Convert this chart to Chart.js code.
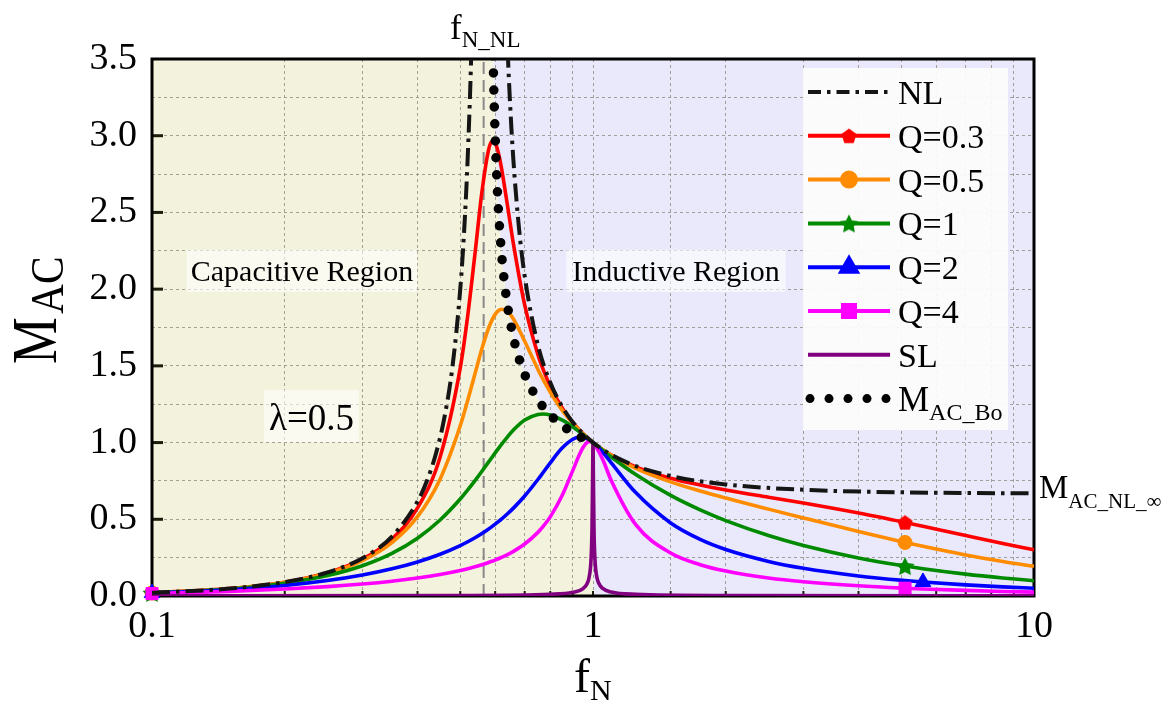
<!DOCTYPE html>
<html>
<head>
<meta charset="utf-8">
<script src="https://cdn.jsdelivr.net/npm/chart.js@4.4.1/dist/chart.umd.min.js"></script>
<style>
  html, body { margin: 0; padding: 0; background: #fff; }
  #wrap { width: 1161px; height: 702px; position: relative; }
</style>
</head>
<body>
<div id="wrap"><canvas id="gain"></canvas></div>
<script>
// ---- data -------------------------------------------------------------
// normalised switching frequency samples used by the loaded curves
const fnGrid = [0.1, 0.15, 0.2, 0.25, 0.3, 0.35, 0.4, 0.45, 0.5, 0.52, 0.54, 0.56, 0.58, 0.59, 0.6,
  0.61, 0.62, 0.64, 0.66, 0.7, 0.75, 0.77, 0.8, 0.85, 0.9, 0.93, 0.95, 0.97, 0.985, 1,
  1.05, 1.1, 1.25, 1.5, 1.75, 2, 2.5, 3, 4, 5.1, 5.6, 7, 8.5, 10];

const gainQ03 = [0.0206, 0.0480, 0.0901, 0.1516, 0.2406, 0.3719, 0.5738, 0.9047, 1.4866, 1.8287, 2.2306,
  2.6341, 2.9111, 2.9627, 2.9521, 2.8894, 2.7902, 2.5433, 2.2950, 1.8973, 1.5732, 1.4803, 1.3674,
  1.2286, 1.1300, 1.0835, 1.0566, 1.0323, 1.0156, 1, 0.9552, 0.9189, 0.8420, 0.7680, 0.7232, 0.6912,
  0.6437, 0.6056, 0.5405, 0.4791, 0.4542, 0.3937, 0.3419, 0.3008];
const gainQ05 = [0.0205, 0.0477, 0.0888, 0.1478, 0.2310, 0.3485, 0.5169, 0.7615, 1.1094, 1.2762, 1.4489,
  1.6127, 1.7475, 1.7982, 1.8356, 1.8592, 1.8693, 1.8545, 1.8052, 1.6604, 1.4768, 1.4126, 1.3278,
  1.2131, 1.1249, 1.0814, 1.0556, 1.0319, 1.0155, 1, 0.9545, 0.9166, 0.8325, 0.7441, 0.6845, 0.6385,
  0.5662, 0.5087, 0.4199, 0.3491, 0.3236, 0.2675, 0.2248, 0.1934];
const gainQ1 = [0.0202, 0.0460, 0.0833, 0.1333, 0.1975, 0.2779, 0.3766, 0.4951, 0.6325, 0.6916, 0.7523,
  0.8134, 0.8740, 0.9036, 0.9325, 0.9605, 0.9875, 1.0375, 1.0813, 1.1465, 1.1837, 1.1861, 1.1793,
  1.1475, 1.1018, 1.0715, 1.0509, 1.0304, 1.0151, 1, 0.9515, 0.9063, 0.7918, 0.6555, 0.5611, 0.4914,
  0.3945, 0.3297, 0.2483, 0.1952, 0.1779, 0.1425, 0.1175, 0.0999];
const gainQ2 = [0.0191, 0.0409, 0.0685, 0.1008, 0.1370, 0.1773, 0.2221, 0.2721, 0.3288, 0.3536, 0.3799,
  0.4076, 0.4370, 0.4523, 0.4681, 0.4844, 0.5011, 0.5359, 0.5727, 0.6519, 0.7593, 0.8034, 0.8682,
  0.9626, 1.0220, 1.0346, 1.0331, 1.0244, 1.0137, 1, 0.9394, 0.8681, 0.6738, 0.4762, 0.3690, 0.3030,
  0.2256, 0.1810, 0.1309, 0.1008, 0.0914, 0.0725, 0.0594, 0.0504];
const gainQ4 = [0.0160, 0.0300, 0.0452, 0.0612, 0.0782, 0.0966, 0.1169, 0.1398, 0.1661, 0.1778, 0.1904,
  0.2039, 0.2185, 0.2262, 0.2343, 0.2427, 0.2515, 0.2702, 0.2908, 0.3386, 0.4146, 0.4516, 0.5159,
  0.6512, 0.8186, 0.9176, 0.9697, 1.0012, 1.0080, 1, 0.8953, 0.7529, 0.4646, 0.2801, 0.2041, 0.1625,
  0.1174, 0.0929, 0.0664, 0.0508, 0.0460, 0.0364, 0.0298, 0.0252];

// no-load gain, split either side of its pole
const nlLowFn = [0.1, 0.15, 0.2, 0.25, 0.3, 0.35, 0.4, 0.42, 0.44, 0.46, 0.48, 0.5, 0.51, 0.52, 0.53, 0.54, 0.55];
const nlLowGain = [0.0206, 0.0483, 0.0909, 0.1538, 0.2466, 0.3874, 0.6154, 0.7493, 0.9237, 1.1589, 1.4923,
  2.0, 2.368, 2.865, 3.571, 4.658, 6.541];
const nlHighFn = [0.61, 0.62, 0.63, 0.64, 0.65, 0.66, 0.68, 0.7, 0.75, 0.8, 0.85, 0.9, 1, 1.2, 1.5, 2, 3, 5, 10];
const nlHighGain = [6.399, 5.017, 4.163, 3.580, 3.158, 2.839, 2.388, 2.085, 1.636, 1.391, 1.238, 1.133, 1.0,
  0.8675, 0.7826, 0.7273, 0.6923, 0.6757, 0.6689];

// short-load gain
const slFn = [0.1, 0.5, 0.8, 0.9, 0.95, 0.97, 0.98, 0.99, 0.995, 0.998, 1, 1.002, 1.005, 1.01, 1.02, 1.03,
  1.05, 1.1, 1.25, 2, 10];
const slGain = [0.0005, 0.0033, 0.0111, 0.0237, 0.0487, 0.0820, 0.1228, 0.2415, 0.4468, 0.7815, 1.0,
  0.7802, 0.4477, 0.2435, 0.1252, 0.0843, 0.0511, 0.0262, 0.0111, 0.0033, 0.0005];

// capacitive / inductive boundary
const boFn = [0.59, 0.595, 0.6, 0.605, 0.61, 0.62, 0.63, 0.64, 0.66, 0.68, 0.7, 0.75, 0.8, 0.85, 0.9, 0.95, 1];
const boGain = [3.964, 3.377, 3.000, 2.732, 2.530, 2.240, 2.040, 1.892, 1.685, 1.545, 1.444, 1.279, 1.180,
  1.113, 1.064, 1.028, 1.000];

const fnNL = 0.565;                       // dashed marker line
const xTickValues = [0.1, 1, 10];
const xTickLabels = ['0.1', '1', '10'];
const yTickValues = [0, 0.5, 1, 1.5, 2, 2.5, 3, 3.5];
const yTickLabels = ['0.0', '0.5', '1.0', '1.5', '2.0', '2.5', '3.0', '3.5'];

// ---- style ------------------------------------------------------------
const SERIF = '"Liberation Serif", "Times New Roman", Times, serif';
const C_NL = '#151515', C_Q03 = '#ff0000', C_Q05 = '#ff8c00', C_Q1 = '#008a00',
      C_Q2 = '#0000ff', C_Q4 = '#ff00ff', C_SL = '#800080';
const CAP_BG = '#f3f2dc', IND_BG = '#e9e9fb';
const GRID = 'rgba(140,140,130,0.8)';
const LW = 3.6;

function polyMarker(color, size, star) {
  const c = document.createElement('canvas');
  c.width = c.height = size;
  const g = c.getContext('2d');
  const r = size / 2;
  g.fillStyle = color;
  g.beginPath();
  const n = star ? 10 : 5;
  for (let i = 0; i < n; i++) {
    const a = -Math.PI / 2 + i * 2 * Math.PI / n;
    const rr = star && i % 2 ? r * 0.5 : r;
    const px = r + rr * Math.cos(a), py = r + (star ? 1 : 0.8) + rr * Math.sin(a);
    i ? g.lineTo(px, py) : g.moveTo(px, py);
  }
  g.closePath();
  g.fill();
  return c;
}
const pentagon = polyMarker(C_Q03, 16, false);
const star = polyMarker(C_Q1, 20, true);

const pts = (xs, ys) => xs.map((x, i) => ({x, y: ys[i]}));
const markAt = (idx, r) => (c) => idx.includes(c.dataIndex) ? r : 0;

function loadSet(label, ys, color, style, radius, idx, order) {
  return {
    label, data: pts(fnGrid, ys), borderColor: color, backgroundColor: color,
    borderWidth: LW, pointStyle: style, pointRadius: markAt(idx, radius), pointHoverRadius: 0,
    pointBorderWidth: 1, pointBorderColor: color, pointBackgroundColor: color,
    cubicInterpolationMode: 'monotone', clip: false, order
  };
}

const series = [
  {label: 'M_AC_Bo', data: pts(boFn, boGain), borderColor: '#000', borderWidth: 9.5, borderDash: [0, 17],
   borderCapStyle: 'round', pointRadius: 0, cubicInterpolationMode: 'monotone', clip: 0, order: 0},
  {label: 'NL', data: pts(nlLowFn, nlLowGain), borderColor: C_NL, borderWidth: 4, borderDash: [18, 6, 3.5, 6],
   pointRadius: 0, cubicInterpolationMode: 'monotone', clip: 0, order: 1},
  {label: 'NL', data: pts(nlHighFn, nlHighGain), borderColor: C_NL, borderWidth: 4, borderDash: [18, 6, 3.5, 6],
   pointRadius: 0, cubicInterpolationMode: 'monotone', clip: 0, order: 1},
  {label: 'SL', data: pts(slFn, slGain), borderColor: C_SL, borderWidth: LW, pointRadius: 0,
   cubicInterpolationMode: 'monotone', clip: 0, order: 2},
  loadSet('Q=4', gainQ4, C_Q4, 'rect', 8.5, [0, 39], 3),
  loadSet('Q=2', gainQ2, C_Q2, 'triangle', 9, [0, 40], 4),
  loadSet('Q=1', gainQ1, C_Q1, star, 8, [0, 39], 5),
  loadSet('Q=0.5', gainQ05, C_Q05, 'circle', 7, [0, 39], 6),
  loadSet('Q=0.3', gainQ03, C_Q03, pentagon, 8, [0, 39], 7),
  // shaded operating regions, left and right of the boundary
  {label: 'cap', data: pts([0.1, ...boFn, 1], [3.5, ...boGain, 0]), fill: 'start', backgroundColor: CAP_BG,
   borderWidth: 0, pointRadius: 0, clip: 0, order: 20},
  {label: 'ind', data: pts([...boFn, 1, 10], [...boGain, 0, 0]), fill: 'end', backgroundColor: IND_BG,
   borderWidth: 0, pointRadius: 0, clip: 0, order: 21}
];

// ---- drawing helpers --------------------------------------------------
function subText(ctx, x, y, main, sub, mainSize, subSize, drop) {
  ctx.font = mainSize + 'px ' + SERIF;
  ctx.fillText(main, x, y);
  const w = ctx.measureText(main).width;
  ctx.font = subSize + 'px ' + SERIF;
  ctx.fillText(sub, x + w, y + drop);
}

function boxedText(ctx, text, cx, cy, size, padX, h, base) {
  ctx.font = size + 'px ' + SERIF;
  const w = ctx.measureText(text).width;
  ctx.fillStyle = 'rgba(255,255,255,0.6)';
  ctx.fillRect(cx - w / 2 - padX, cy - h / 2, w + 2 * padX, h);
  ctx.fillStyle = '#000';
  ctx.textAlign = 'left';
  ctx.textBaseline = 'alphabetic';
  ctx.fillText(text, cx - w / 2, cy - h / 2 + base);
}

const legendRows = [
  {text: 'NL', color: C_NL, dash: [13, 6, 3.5, 6]},
  {text: 'Q=0.3', color: C_Q03, style: pentagon, r: 8},
  {text: 'Q=0.5', color: C_Q05, style: 'circle', r: 7},
  {text: 'Q=1', color: C_Q1, style: star, r: 8},
  {text: 'Q=2', color: C_Q2, style: 'triangle', r: 9},
  {text: 'Q=4', color: C_Q4, style: 'rect', r: 8.5},
  {text: 'SL', color: C_SL},
  {text: 'M', sub: 'AC_Bo', color: '#000', dots: true}
];

const annotate = {
  id: 'annotate',
  beforeDatasetsDraw(chart) {
    const {ctx, chartArea: a, scales: {x, y}} = chart;
    ctx.save();
    // region captions
    boxedText(ctx, 'Capacitive Region', x.getPixelForValue(0.2188), y.getPixelForValue(2.119), 30, 4, 42, 31);
    boxedText(ctx, 'Inductive Region', x.getPixelForValue(1.542), y.getPixelForValue(2.119), 30, 6, 42, 31);
    boxedText(ctx, 'λ=0.5', x.getPixelForValue(0.230), y.getPixelForValue(1.173), 37, 5, 52, 40);
    // no-load pole frequency
    ctx.save();
    ctx.beginPath(); ctx.rect(a.left, a.top, a.width, a.height); ctx.clip();
    const px = x.getPixelForValue(fnNL);
    ctx.strokeStyle = '#8a8a8a'; ctx.lineWidth = 2; ctx.setLineDash([12, 6]);
    ctx.beginPath(); ctx.moveTo(px, a.bottom); ctx.lineTo(px, a.top); ctx.stroke();
    ctx.restore();
    // inward tick marks
    ctx.setLineDash([]);
    ctx.strokeStyle = '#1c1c0c';
    ctx.lineWidth = 3;
    yTickValues.slice(1, -1).forEach(v => {
      const py = y.getPixelForValue(v);
      ctx.beginPath(); ctx.moveTo(a.left, py); ctx.lineTo(a.left + 11, py); ctx.stroke();
    });
    ctx.lineWidth = 2;
    x.ticks.forEach(t => {
      const tx = x.getPixelForValue(t.value);
      ctx.beginPath(); ctx.moveTo(tx, a.bottom); ctx.lineTo(tx, a.bottom - 5); ctx.stroke();
    });
    // plot frame
    ctx.strokeStyle = '#000'; ctx.lineWidth = 3;
    ctx.strokeRect(a.left, a.top, a.width, a.height);
    ctx.restore();
  },
  afterDatasetsDraw(chart) {
    const ctx = chart.ctx;
    ctx.save();
    ctx.fillStyle = 'rgba(252,252,252,0.92)';
    ctx.fillRect(803, 68, 205, 362);
    const x0 = 808, x1 = 890, xm = 849, tx = 898;
    legendRows.forEach((row, i) => {
      const ry = 92 + i * 43.8;
      ctx.strokeStyle = row.color; ctx.fillStyle = row.color;
      if (row.dots) {
        for (let k = 0; k < 5; k++) {
          ctx.beginPath(); ctx.arc(810 + k * 19, ry, 4.5, 0, 2 * Math.PI); ctx.fill();
        }
      } else {
        ctx.lineWidth = 4;
        ctx.setLineDash(row.dash || []);
        ctx.beginPath(); ctx.moveTo(x0, ry); ctx.lineTo(x1, ry); ctx.stroke();
        ctx.setLineDash([]);
        if (row.style) {
          Chart.helpers.drawPoint(ctx, {pointStyle: row.style, radius: row.r, rotation: 0, borderWidth: 1}, xm, ry);
        }
      }
      ctx.fillStyle = '#000';
      ctx.textAlign = 'left'; ctx.textBaseline = 'alphabetic';
      if (row.sub) {
        subText(ctx, tx, ry + 12, row.text, row.sub, 35, 24, 9);
      } else {
        ctx.font = '34px ' + SERIF;
        ctx.fillText(row.text, tx, ry + 12);
      }
    });
    ctx.restore();
  },
  afterDraw(chart) {
    const {ctx, chartArea: a, scales: {y}} = chart;
    ctx.save();
    ctx.fillStyle = '#000'; ctx.textAlign = 'left'; ctx.textBaseline = 'alphabetic';
    // y-axis title
    ctx.save();
    ctx.translate(56, 364); ctx.rotate(-Math.PI / 2);
    ctx.save(); ctx.scale(0.82, 1); ctx.font = '64px ' + SERIF; ctx.fillText('M', 0, 0); ctx.restore();
    ctx.save(); ctx.translate(50, 7); ctx.scale(0.9, 1); ctx.font = '46px ' + SERIF; ctx.fillText('AC', 0, 0); ctx.restore();
    ctx.restore();
    // x-axis title
    subText(ctx, 574, 692, 'f', 'N', 48, 30, 8);
    // pole label above the frame
    subText(ctx, 450, 39, 'f', 'N_NL', 35, 23, 8);
    // high-frequency no-load asymptote label
    subText(ctx, a.right + 5, y.getPixelForValue(0.6689) + 5, 'M', 'AC_NL_∞', 33, 21, 10);
    ctx.restore();
  }
};

// ---- chart ------------------------------------------------------------
Chart.defaults.font.family = SERIF;
Chart.defaults.color = '#000';

new Chart(document.getElementById('gain'), {
  type: 'line',
  data: {datasets: series},
  plugins: [annotate],
  options: {
    responsive: true,
    maintainAspectRatio: false,
    animation: false,
    events: [],
    layout: {padding: {left: 0, top: 59, right: 127, bottom: 0}},
    plugins: {
      legend: {display: false},
      tooltip: {enabled: false},
      filler: {drawTime: 'beforeDraw'}
    },
    scales: {
      x: {
        type: 'logarithmic', min: 0.1, max: 10,
        afterFit: s => { s.height = 106; },
        grid: {color: GRID, lineWidth: 1, drawTicks: false},
        border: {display: false, dash: [3, 3]},
        ticks: {
          autoSkip: false, maxRotation: 0, padding: 8,
          font: {size: 38, family: SERIF}, color: '#000',
          callback: v => {
            const k = xTickValues.findIndex(t => Math.abs(Math.log10(v) - Math.log10(t)) < 1e-6);
            return k >= 0 ? xTickLabels[k] : '';
          }
        }
      },
      y: {
        type: 'linear', min: 0, max: 3.5,
        afterFit: s => { s.width = 152; },
        grid: {color: GRID, lineWidth: 1, drawTicks: false},
        border: {display: false, dash: [3, 3]},
        ticks: {
          autoSkip: false, stepSize: 0.25, padding: 15,
          font: {size: 38, family: SERIF}, color: '#000',
          callback: v => {
            const k = yTickValues.findIndex(t => Math.abs(v - t) < 1e-6);
            return k >= 0 ? yTickLabels[k] : '';
          }
        }
      }
    }
  }
});
</script>
</body>
</html>
